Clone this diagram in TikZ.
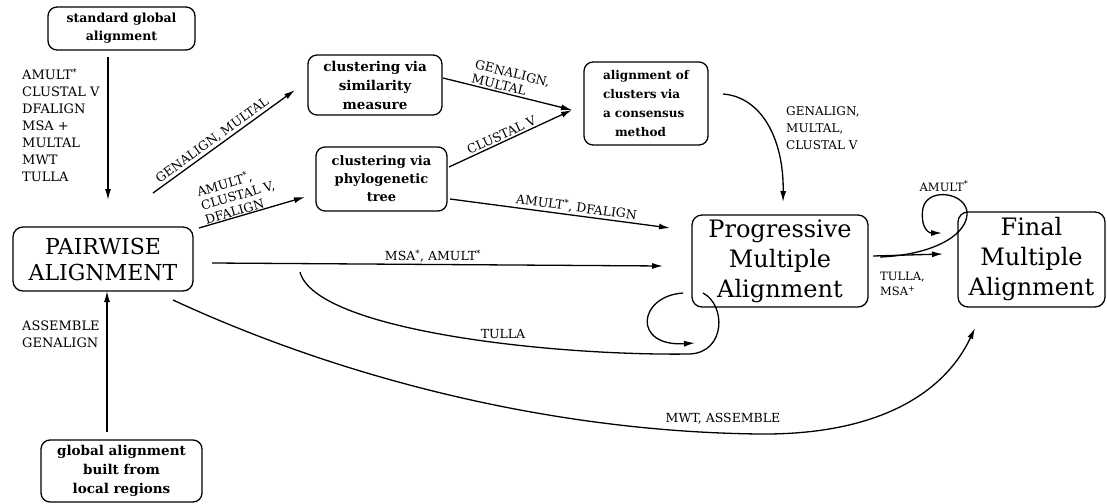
\documentclass[tikz,border=0pt]{standalone}
\usepackage{fontspec}
\setmainfont{DejaVu Serif}
\usetikzlibrary{arrows.meta,calc}
\newcommand{\sst}{\textsuperscript{*}}
\newcommand{\spl}{\textsuperscript{+}}
\begin{document}
\begin{tikzpicture}[x=1pt,y=-1pt,
 box/.style={draw,line width=1.3pt,rounded corners=9pt,inner sep=2pt,align=center,font=\fontsize{13.5}{19}\selectfont\bfseries},
 big/.style={draw,line width=1.3pt,rounded corners=10pt,inner sep=2pt,align=center},
 lab/.style={font=\fontsize{12.5}{14.5}\selectfont,inner sep=1.5pt},
 lst/.style={font=\fontsize{13}{17}\selectfont,align=left,anchor=west,inner sep=1pt},
 arr/.style={line width=1.3pt,-{Latex[length=11pt,width=6pt]}},
 ln/.style={line width=1.3pt}]
\useasboundingbox (0,0) rectangle (1107,503);
% boxes
\node[box,font=\fontsize{12.5}{18}\selectfont\bfseries,minimum width=147pt,minimum height=43pt] (sga) at (121.5,28.5) {standard global\\alignment};
\node[big,font=\fontsize{22}{26}\selectfont,minimum width=180pt,minimum height=64pt] (pw) at (103,259) {PAIRWISE\\ALIGNMENT};
\node[box,minimum width=161pt,minimum height=62pt] (gal) at (121.5,471) {global alignment\\built from\\local regions};
\node[box,minimum width=134pt,minimum height=60pt] (sim) at (375,85) {clustering via\\similarity\\measure};
\node[box,font=\fontsize{13}{18}\selectfont\bfseries,minimum width=131pt,minimum height=64pt] (phy) at (381.5,179) {clustering via\\phylogenetic\\tree};
\node[box,align=left,font=\fontsize{12}{19}\selectfont\bfseries,minimum width=124pt,minimum height=83pt] (cons) at (646,103.5) {alignment of\\clusters via\\a consensus\\\hspace*{1em}method};
\node[big,font=\fontsize{24}{30}\selectfont,minimum width=176pt,minimum height=92pt] (pm) at (780,261) {Progressive\\Multiple\\Alignment};
\node[big,font=\fontsize{24}{30}\selectfont,minimum width=147pt,minimum height=95pt] (fm) at (1031.5,259.5) {Final\\Multiple\\Alignment};
% free ends
\coordinate (a1s) at (108,57);   \coordinate (a1e) at (108,200);
\coordinate (a2s) at (107,432);  \coordinate (a2e) at (107,291);
\coordinate (a3s) at (153,193);  \coordinate (a3e) at (295,90);
\coordinate (a4s) at (199,228);  \coordinate (a4e) at (305,197);
\coordinate (a5s) at (443,78);   \coordinate (a5e) at (572,110);
\coordinate (a6s) at (449,167);
\coordinate (a7s) at (450,199);  \coordinate (a7e) at (670,228);
\coordinate (a8s) at (723,94);   \coordinate (a8e) at (783,202);
\coordinate (a9s) at (212,263);  \coordinate (a9e) at (663,266);
\coordinate (t1s) at (300,272);  \coordinate (t1e) at (703,293);
\coordinate (sls) at (683,293);  \coordinate (sle) at (695,343);
\coordinate (m1s) at (173,300);  \coordinate (m1e) at (975,328);
\coordinate (f1s) at (873,256);  \coordinate (f1e) at (943,254);
\coordinate (l1s) at (880,257);  \coordinate (l1e) at (942,233);
% connectors
\draw[arr] (a1s) -- (a1e);
\node[lst] (lb1) at (21,125) {AMULT\sst\\CLUSTAL V\\DFALIGN\\MSA +\\MULTAL\\MWT\\TULLA};
\draw[arr] (a2s) -- (a2e);
\node[lst] (lb2) at (21,334) {ASSEMBLE\\GENALIGN};
\draw[arr] (a3s) -- node[lab,sloped,above,pos=0.45] (lb3) {GENALIGN, MULTAL} (a3e);
\draw[arr] (a4s) -- node[lab,sloped,above,pos=0.42,align=left,inner sep=0.5pt] (lb4) {AMULT\sst,\\CLUSTAL V,\\DFALIGN} (a4e);
\draw[arr] (a5s) -- node[lab,sloped,above,pos=0.5,align=left] (lb5) {GENALIGN,\\MULTAL} (a5e);
\draw[arr] (a6s) -- node[lab,sloped,above,pos=0.45] (lb6) {CLUSTAL V} (a5e);
\draw[arr] (a7s) -- node[lab,sloped,above,pos=0.57] (lb7) {AMULT\sst, DFALIGN} (a7e);
\draw[arr] (a8s) .. controls (762,97) and (784,140) .. (a8e);
\node[lst,font=\fontsize{12}{17}\selectfont] (lb8) at (785,128) {GENALIGN,\\MULTAL,\\CLUSTAL V};
\draw[arr] (a9s) -- node[lab,above,pos=0.49] (lb9) {MSA\sst, AMULT\sst} (a9e);
\draw[ln] (t1s) .. controls (315,330) and (550,356) .. (690,354) .. controls (726,352) and (726,305) .. (t1e);
\node[lab] (lbt) at (503,334) {TULLA};
\draw[arr] (sls) .. controls (638,296) and (632,347) .. (sle);
\draw[arr] (m1s) .. controls (350,382) and (560,432) .. (760,434) .. controls (880,435) and (945,392) .. (m1e);
\node[lab] (lbm) at (723,419) {MWT, ASSEMBLE};
\draw[arr] (f1s) -- (f1e);
\node[lst,font=\fontsize{11.5}{15}\selectfont] (lbf) at (879,284) {TULLA,\\MSA\spl};
\draw[arr] (l1s) .. controls (930,255) and (965,237) .. (967,215) .. controls (969,193) and (928,186) .. (923,208) .. controls (920,225) and (927,233) .. (l1e);
\node[lab,font=\fontsize{11.5}{14}\selectfont] (lba) at (944,186) {AMULT\sst};
\end{tikzpicture}
\end{document}
